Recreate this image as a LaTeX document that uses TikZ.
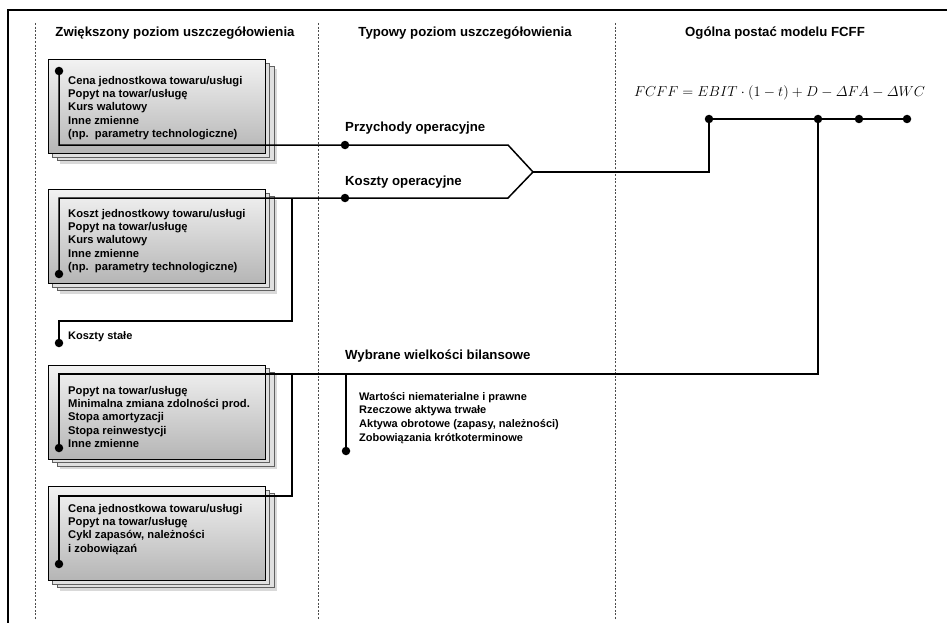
\documentclass[tikz,border=0pt]{standalone}
\usepackage{amsmath}
\usepackage{fontspec}
\setmainfont{Liberation Sans}
\usetikzlibrary{shadows}

\begin{document}
\begin{tikzpicture}[x=1pt, y=-1pt,
    card/.style={draw=black, line width=0.9pt, minimum width=217pt, minimum height=94pt, inner sep=0pt, top color=gray!10, bottom color=gray!58},
    sheet/.style={draw=gray!75!black, line width=0.5pt, fill=gray!24, minimum width=217pt, minimum height=94pt, inner sep=0pt},
    items/.style={anchor=north west, inner sep=0pt, align=left, font=\bfseries\fontsize{11.2}{13.2}\selectfont},
    head/.style={inner sep=0pt, font=\bfseries\fontsize{13.2}{15}\selectfont},
    lbl/.style={anchor=west, inner sep=0pt, font=\bfseries\fontsize{13.2}{15}\selectfont},
    dot/.style={circle, fill=black, inner sep=0pt, minimum size=8.5pt},
    wire/.style={line width=1.5pt, line join=miter},
    sep/.style={gray!60!black, line width=0.6pt, dash pattern=on 2pt off 1.6pt}
]
    \useasboundingbox (0,0) rectangle (947,623);
    % frame and columns
    \draw[line width=1.4pt] (8,623) -- (8,10) -- (947,10);
    \foreach \x in {35,318,615}
        \draw[sep] (\x,23) -- (\x,620);
    \node[head] (h1) at (175,33) {Zwiększony poziom uszczegółowienia};
    \node[head] (h2) at (465,33) {Typowy poziom uszczegółowienia};
    \node[head] (h3) at (775,33) {Ogólna postać modelu FCFF};

    % stacked cards
    \foreach \n/\yc in {1/106.5, 2/236.5, 3/412, 4/533.5} {
        \node[sheet, drop shadow={shadow xshift=3pt, shadow yshift=-3pt, opacity=0.3}] (back\n) at (165.5,\yc+7) {};
        \node[sheet] (mid\n) at (161,\yc+3.5) {};
        \node[card] (card\n) at (156.5,\yc) {};
    }
    \node[items] (txt1) at (68,76.2) {Cena jednostkowa towaru/usługi\\Popyt na towar/usługę\\Kurs walutowy\\Inne zmienne\\(np.\ \ parametry technologiczne)};
    \node[items] (txt2) at (68,209.2) {Koszt jednostkowy towaru/usługi\\Popyt na towar/usługę\\Kurs walutowy\\Inne zmienne\\(np.\ \ parametry technologiczne)};
    \node[items] (txt3) at (68,386.2) {Popyt na towar/usługę\\Minimalna zmiana zdolności prod.\\Stopa amortyzacji\\Stopa reinwestycji\\Inne zmienne};
    \node[items] (txt4) at (68,504.2) {Cena jednostkowa towaru/usługi\\Popyt na towar/usługę\\Cykl zapasów, należności\\i zobowiązań};
    \node[items, font=\bfseries\fontsize{11}{13}\selectfont] (fix) at (68,331) {Koszty stałe};

    % middle column
    \node[lbl] (lrev) at (345,128) {Przychody operacyjne};
    \node[lbl] (lcst) at (345,182) {Koszty operacyjne};
    \node[lbl] (lbal) at (345,356) {Wybrane wielkości bilansowe};
    \node[items, font=\bfseries\fontsize{11}{13.7}\selectfont] (bal) at (359,392) {Wartości niematerialne i prawne\\Rzeczowe aktywa trwałe\\Aktywa obrotowe (zapasy, należności)\\Zobowiązania krótkoterminowe};

    % formula
    \node[inner sep=0pt, font=\fontsize{15.4}{17}\selectfont] (eq) at (779.5,93)
        {$FCFF = EBIT\cdot(1-t)+D-\varDelta FA-\varDelta WC$};

    % dots
    \node[dot] (d1) at (59,71) {};
    \node[dot] (d2) at (59,274) {};
    \node[dot] (dfix) at (59,343) {};
    \node[dot] (d3) at (59,448) {};
    \node[dot] (d4) at (59,564) {};
    \node[dot] (rev) at (345,145) {};
    \node[dot] (cst) at (345,198) {};
    \node[dot] (bs) at (346,451) {};
    \node[dot] (e1) at (709,119) {};
    \node[dot] (e2) at (818,119) {};
    \node[dot] (e3) at (859,119) {};
    \node[dot] (e4) at (907,119) {};
    \coordinate (revk) at (508,145);
    \coordinate (cstk) at (508,198);
    \coordinate (mrg) at (533,172);
    \coordinate (jk) at (292,198);
    \coordinate (jb) at (292,496);
    \coordinate (wb) at (346,374);

    % connectors
    \draw[wire] (d1.center) |- (rev.center) -- (revk) -- (mrg);
    \draw[wire] (d2.center) |- (cst.center) -- (cstk) -- (mrg);
    \draw[wire] (mrg) -| (e1.center) -- (e4.center);
    \draw[wire] (dfix.center) -- ++(0,-22) -| (jk);
    \draw[wire] (d3.center) |- (wb) -| (e2.center);
    \draw[wire] (d4.center) |- (jb) -- (jb |- wb);
    \draw[wire] (wb) -- (bs.center);
\end{tikzpicture}
\end{document}
